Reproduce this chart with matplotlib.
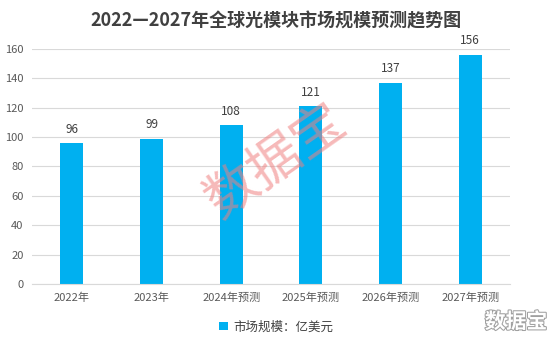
import matplotlib.pyplot as plt
import matplotlib.patheffects as pe

plt.rcParams['font.family'] = ['Noto Sans CJK SC', 'DejaVu Sans']

categories = ['2022年', '2023年', '2024年预测', '2025年预测', '2026年预测', '2027年预测']
values = [96, 99, 108, 121, 137, 156]

fig = plt.figure(figsize=(5.52, 3.44), dpi=100)
ax = fig.add_axes([0.058, 0.174, 0.866, 0.684])

x = range(len(categories))
bars = ax.bar(x, values, width=0.29, color='#00B0F0', zorder=2, label='市场规模：亿美元')
for xi, v in zip(x, values):
    ax.text(xi, v + 5, str(v), ha='center', va='bottom', fontsize=8.5, color='#404040')

ax.set_xlim(-0.5, len(categories) - 0.5)
ax.set_ylim(0, 160)
ax.set_yticks(range(0, 161, 20))
ax.set_xticks(list(x))
ax.set_xticklabels(categories)
ax.tick_params(axis='both', length=0, labelsize=8, colors='#595959')
ax.tick_params(axis='x', pad=6)
ax.tick_params(axis='y', pad=6)
ax.grid(axis='y', color='#D9D9D9', linewidth=0.8, zorder=0)
for s in ['top', 'right', 'left']:
    ax.spines[s].set_visible(False)
ax.spines['bottom'].set_color('#D9D9D9')

fig.text(0.5, 0.94, '2022—2027年全球光模块市场规模预测趋势图', ha='center', va='center',
         fontsize=13, fontweight='bold', color='#404040')

fig.legend(handles=[bars], loc='center', bbox_to_anchor=(0.5, 0.05), frameon=False,
           fontsize=9, handlelength=0.7, handleheight=0.7, handletextpad=0.4,
           labelcolor='#404040')

# watermarks
fig.text(0.5, 0.53, '数据宝', ha='center', va='center', rotation=35,
         fontsize=38, color='#F08080', alpha=0.55)
fig.text(0.935, 0.065, '数据宝', ha='center', va='center', fontsize=15,
         color='white', fontweight='bold',
         path_effects=[pe.withStroke(linewidth=1.5, foreground='#A0A0A0')])

fig.savefig('out.png', dpi=100)
